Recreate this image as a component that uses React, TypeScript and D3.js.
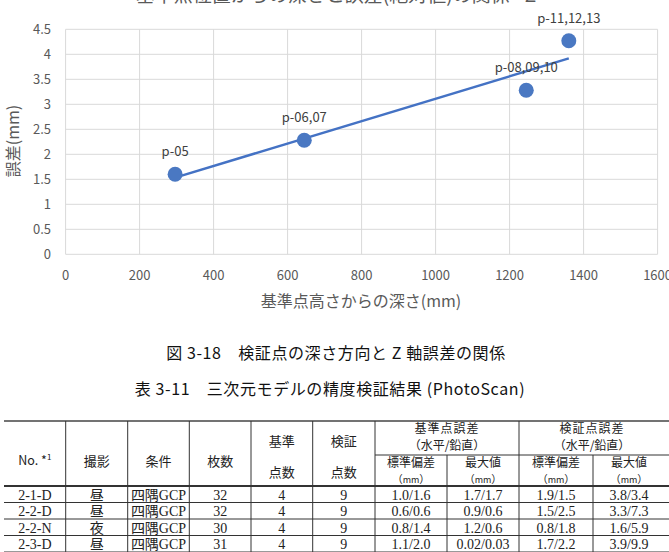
import React from "react";
import * as d3 from "d3";

const depth = [296, 645, 1245, 1360];
const errorMm = [1.6, 2.28, 3.28, 4.27];
const pointLabels = ["p-05", "p-06,07", "p-08,09,10", "p-11,12,13"];
const xTicks = [0, 200, 400, 600, 800, 1000, 1200, 1400, 1600];
const yTicks = [0, 0.5, 1, 1.5, 2, 2.5, 3, 3.5, 4, 4.5];

const chartTitle = "基準点位置からの深さと誤差(絶対値)の関係 - Z";
const yLabel = "誤差(mm)";
const xLabel = "基準点高さからの深さ(mm)";
const figCaption = "図 3-18　検証点の深さ方向と Z 軸誤差の関係";
const tabCaption = "表 3-11　三次元モデルの精度検証結果 (PhotoScan)";

const tableNo = ["2-1-D", "2-2-D", "2-2-N", "2-3-D"];
const tableShoot = ["昼", "昼", "夜", "昼"];
const tableCond = ["四隅GCP", "四隅GCP", "四隅GCP", "四隅GCP"];
const tableCount = ["32", "32", "30", "31"];
const tableRef = ["4", "4", "4", "4"];
const tableChk = ["9", "9", "9", "9"];
const refSd = ["1.0/1.6", "0.6/0.6", "0.8/1.4", "1.1/2.0"];
const refMax = ["1.7/1.7", "0.9/0.6", "1.2/0.6", "0.02/0.03"];
const chkSd = ["1.9/1.5", "1.5/2.5", "0.8/1.8", "1.7/2.2"];
const chkMax = ["3.8/3.4", "3.3/7.3", "1.6/5.9", "3.9/9.9"];

const colEdges = [4, 65.7, 127.7, 189.3, 251, 312.7, 375, 447, 519, 593, 665];

const SANS = "'Noto Sans CJK JP', 'Noto Sans', sans-serif";
const SERIF = "'Liberation Serif', 'DejaVu Serif', 'Noto Sans CJK JP', serif";

export default function App() {
  const x = d3.scaleLinear().domain([0, 1600]).range([65.6, 657.6]);
  const y = d3.scaleLinear().domain([0, 4.5]).range([254.3, 29.3]);

  const mx = d3.mean(depth) as number;
  const my = d3.mean(errorMm) as number;
  const sxy = d3.sum(depth.map((d, i) => (d - mx) * (errorMm[i] - my)));
  const sxx = d3.sum(depth.map((d) => (d - mx) * (d - mx)));
  const slope = sxy / sxx;
  const icpt = my - slope * mx;
  const [x0, x1] = d3.extent(depth) as [number, number];
  const trend = d3.line<number>().x((d) => x(d)).y((d) => y(icpt + slope * d));

  const tTop = 421, tGroup = 455, tHead = 486, rowH = 16.5;
  const cx = (i: number) => (colEdges[i] + colEdges[i + 1]) / 2;
  const cols = [tableNo, tableShoot, tableCond, tableCount, tableRef, tableChk, refSd, refMax, chkSd, chkMax];
  const lineCol = "#333";

  return (
    <svg width={669} height={552} style={{ position: "absolute", left: 0, top: 0, background: "#fff" }}>
      <rect width={669} height={552} fill="#fff" />
      {/* chart title (clipped at top) */}
      <text x={336} y={2} textAnchor="middle" fontFamily={SANS} fontSize={19} fill="#595959">{chartTitle}</text>
      {/* grid */}
      {yTicks.map((t) => (
        <line key={"h" + t} x1={x(0)} x2={x(1600)} y1={y(t)} y2={y(t)} stroke="#d9d9d9" strokeWidth={1} />
      ))}
      {xTicks.map((t) => (
        <line key={"v" + t} x1={x(t)} x2={x(t)} y1={y(0)} y2={y(4.5)} stroke="#d9d9d9" strokeWidth={1} />
      ))}
      {yTicks.map((t) => (
        <text key={"yl" + t} x={51} y={y(t)} dy="0.35em" textAnchor="end" fontFamily={SANS} fontSize={13} fill="#595959">{t}</text>
      ))}
      {xTicks.map((t) => (
        <text key={"xl" + t} x={x(t)} y={280} textAnchor="middle" fontFamily={SANS} fontSize={13} fill="#595959">{t}</text>
      ))}
      <text transform={`translate(19,141) rotate(-90)`} textAnchor="middle" fontFamily={SANS} fontSize={16} fill="#595959">{yLabel}</text>
      <text x={361} y={307} textAnchor="middle" fontFamily={SANS} fontSize={16} fill="#595959">{xLabel}</text>
      {/* trendline */}
      <path d={trend([x0, x1]) || ""} stroke="#4472C4" strokeWidth={2.5} fill="none" />
      {depth.map((d, i) => (
        <circle key={"p" + i} cx={x(d)} cy={y(errorMm[i])} r={7.5} fill="#4a78c2" />
      ))}
      {depth.map((d, i) => (
        <text key={"pl" + i} x={x(d)} y={y(errorMm[i]) - 18} textAnchor="middle" fontFamily={SANS} fontSize={13} fill="#404040">{pointLabels[i]}</text>
      ))}
      {/* captions */}
      <text x={336} y={353} dy="0.35em" textAnchor="middle" fontFamily={SANS} fontSize={16} letterSpacing={0.6} fill="#111">{figCaption}</text>
      <text x={330} y={389} dy="0.35em" textAnchor="middle" fontFamily={SANS} fontSize={16} letterSpacing={0.6} fill="#111">{tabCaption}</text>
      {/* table lines */}
      <line x1={4} x2={669} y1={tTop} y2={tTop} stroke="#444" strokeWidth={1.6} />
      <line x1={4} x2={669} y1={tHead} y2={tHead} stroke="#333" strokeWidth={2} />
      <line x1={375} x2={669} y1={tGroup} y2={tGroup} stroke={lineCol} strokeWidth={1} />
      {[1, 2, 3, 4].map((r) => (
        <line key={"r" + r} x1={4} x2={669} y1={tHead + rowH * r} y2={tHead + rowH * r} stroke={lineCol} strokeWidth={1} />
      ))}
      {[1, 2, 3, 4, 5, 6, 8].map((c) => (
        <line key={"c" + c} x1={colEdges[c]} x2={colEdges[c]} y1={tTop} y2={552} stroke={lineCol} strokeWidth={1} />
      ))}
      {[7, 9].map((c) => (
        <line key={"c" + c} x1={colEdges[c]} x2={colEdges[c]} y1={tGroup} y2={552} stroke={lineCol} strokeWidth={1} />
      ))}
      {/* header text */}
      <text x={cx(0)} y={461} dy="0.35em" textAnchor="middle" fontFamily={SANS} fontSize={12.5} fill="#222">
        No. *<tspan fontSize={8} dy="-5">1</tspan>
      </text>
      {["撮影", "条件", "枚数"].map((t, i) => (
        <text key={"hh" + i} x={cx(i + 1)} y={461} dy="0.35em" textAnchor="middle" fontFamily={SANS} fontSize={13} fill="#222">{t}</text>
      ))}
      {[["基準", "点数"], ["検証", "点数"]].map((pair, i) => (
        <g key={"h2" + i}>
          <text x={cx(i + 4)} y={441} dy="0.35em" textAnchor="middle" fontFamily={SANS} fontSize={13} fill="#222">{pair[0]}</text>
          <text x={cx(i + 4)} y={472} dy="0.35em" textAnchor="middle" fontFamily={SANS} fontSize={13} fill="#222">{pair[1]}</text>
        </g>
      ))}
      {["基準点誤差", "検証点誤差"].map((t, i) => (
        <g key={"g" + i}>
          <text x={i === 0 ? 447 : 592} y={428.5} dy="0.35em" textAnchor="middle" fontFamily={SANS} fontSize={12} letterSpacing={1} fill="#222">{t}</text>
          <text x={i === 0 ? 447 : 592} y={446} dy="0.35em" textAnchor="middle" fontFamily={SANS} fontSize={12} fill="#222">（水平/鉛直）</text>
        </g>
      ))}
      {["標準偏差", "最大値", "標準偏差", "最大値"].map((t, i) => (
        <g key={"s" + i}>
          <text x={cx(i + 6)} y={463} dy="0.35em" textAnchor="middle" fontFamily={SANS} fontSize={12} fill="#222">{t}</text>
          <text x={cx(i + 6)} y={479.5} dy="0.35em" textAnchor="middle" fontFamily={SANS} fontSize={10.5} fill="#222">
            （<tspan fontSize={9}>mm</tspan>）
          </text>
        </g>
      ))}
      {/* body */}
      {cols.map((col, c) =>
        col.map((v, r) => (
          <text key={"d" + c + "-" + r} x={cx(c)} y={tHead + rowH * r + rowH / 2 + 0.5} dy="0.35em" textAnchor="middle" fontFamily={SERIF} fontSize={14} fill="#222">{v}</text>
        ))
      )}
    </svg>
  );
}
